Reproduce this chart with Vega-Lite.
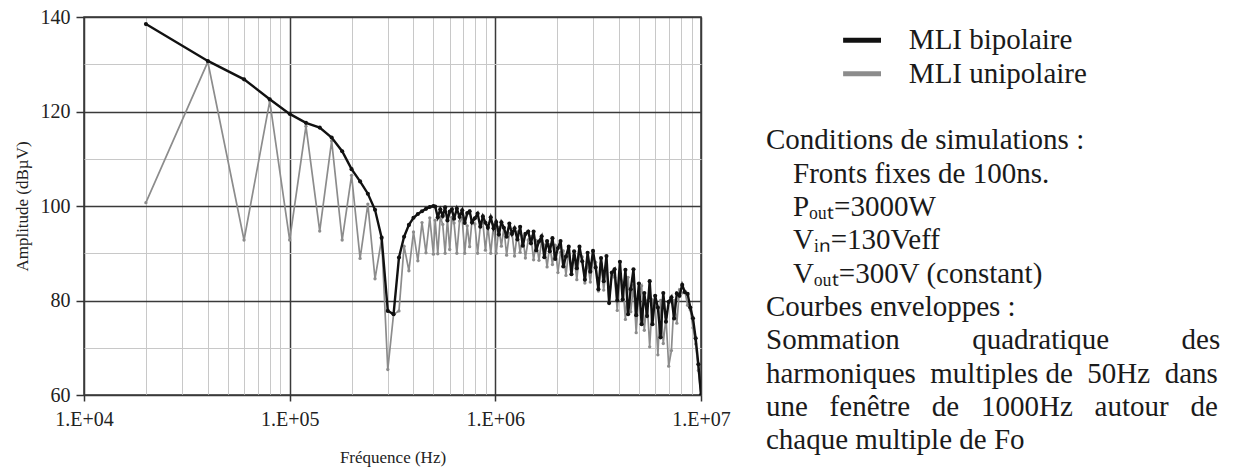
{
  "$schema": "https://vega.github.io/schema/vega-lite/v6.json",
  "background": "white",
  "padding": {"left": 12, "top": 6, "right": 5, "bottom": 5},
  "config": {"view": {"stroke": null}, "font": "Liberation Serif"},
  "spacing": 35,
  "datasets": {
    "spectre": [
      {"f": 20000, "b": 138.5, "u": 100.7},
      {"f": 40000, "b": 130.7, "u": 130.5},
      {"f": 60000, "b": 126.8, "u": 92.8},
      {"f": 80000, "b": 122.6, "u": 122.2},
      {"f": 100000, "b": 119.5, "u": 92.8},
      {"f": 120000, "b": 117.6, "u": 116.9},
      {"f": 140000, "b": 116.6, "u": 94.7},
      {"f": 160000, "b": 114.5, "u": 113.8},
      {"f": 180000, "b": 111.6, "u": 92.8},
      {"f": 200000, "b": 107.8, "u": 106.5},
      {"f": 220000, "b": 105.2, "u": 88.9},
      {"f": 240000, "b": 102.6, "u": 100.4},
      {"f": 260000, "b": 99.2, "u": 84.6},
      {"f": 280000, "b": 93.3, "u": 93.0},
      {"f": 300000, "b": 77.8, "u": 65.4},
      {"f": 320000, "b": 77.1, "u": 77.1},
      {"f": 340000, "b": 89.1, "u": 77.8},
      {"f": 360000, "b": 93.5, "u": 91.5},
      {"f": 380000, "b": 96.0, "u": 86.3},
      {"f": 400000, "b": 97.5, "u": 94.5},
      {"f": 420000, "b": 98.3, "u": 88.4},
      {"f": 440000, "b": 98.9, "u": 96.5},
      {"f": 460000, "b": 99.4, "u": 90.1},
      {"f": 480000, "b": 99.8, "u": 97.5},
      {"f": 500000, "b": 100.0, "u": 89.8},
      {"f": 510000, "b": 99.9, "u": 97.0},
      {"f": 525000, "b": 97.6, "u": 89.9},
      {"f": 540000, "b": 99.3, "u": 97.7},
      {"f": 555000, "b": 97.9, "u": 96.1},
      {"f": 570000, "b": 99.7, "u": 90.0},
      {"f": 585000, "b": 96.95, "u": 97.2},
      {"f": 600000, "b": 98.8, "u": 90.8},
      {"f": 615000, "b": 99.3, "u": 97.6},
      {"f": 630000, "b": 97.3, "u": 96.4},
      {"f": 650000, "b": 99.45, "u": 90.0},
      {"f": 670000, "b": 97.7, "u": 96.8},
      {"f": 690000, "b": 99.1, "u": 97.4},
      {"f": 710000, "b": 96.4, "u": 90.0},
      {"f": 730000, "b": 98.5, "u": 95.8},
      {"f": 750000, "b": 98.9, "u": 91.4},
      {"f": 770000, "b": 96.5, "u": 97.0},
      {"f": 795000, "b": 97.4, "u": 96.2},
      {"f": 820000, "b": 98.4, "u": 90.0},
      {"f": 845000, "b": 95.6, "u": 95.7},
      {"f": 870000, "b": 97.8, "u": 96.55},
      {"f": 895000, "b": 96.45, "u": 90.65},
      {"f": 920000, "b": 95.4, "u": 95.7},
      {"f": 950000, "b": 97.6, "u": 90.0},
      {"f": 980000, "b": 95.3, "u": 96.1},
      {"f": 1010000, "b": 96.6, "u": 90.0},
      {"f": 1040000, "b": 93.95, "u": 95.46},
      {"f": 1070000, "b": 96.56, "u": 91.5},
      {"f": 1100000, "b": 95.4, "u": 95.4},
      {"f": 1135000, "b": 93.5, "u": 89.6},
      {"f": 1170000, "b": 96.3, "u": 94.2},
      {"f": 1205000, "b": 94.1, "u": 94.3},
      {"f": 1240000, "b": 95.3, "u": 89.4},
      {"f": 1280000, "b": 92.9, "u": 94.5},
      {"f": 1320000, "b": 95.6, "u": 90.2},
      {"f": 1360000, "b": 91.6, "u": 93.6},
      {"f": 1400000, "b": 94.1, "u": 89.0},
      {"f": 1445000, "b": 94.6, "u": 92.8},
      {"f": 1490000, "b": 92.1, "u": 93.5},
      {"f": 1535000, "b": 94.6, "u": 88.6},
      {"f": 1580000, "b": 90.6, "u": 92.7},
      {"f": 1630000, "b": 92.5, "u": 88.5},
      {"f": 1680000, "b": 93.6, "u": 92.7},
      {"f": 1730000, "b": 89.15, "u": 91.7},
      {"f": 1785000, "b": 92.6, "u": 87.1},
      {"f": 1840000, "b": 90.4, "u": 91.8},
      {"f": 1895000, "b": 93.2, "u": 87.6},
      {"f": 1955000, "b": 88.8, "u": 91.7},
      {"f": 2015000, "b": 91.1, "u": 85.9},
      {"f": 2075000, "b": 92.6, "u": 90.2},
      {"f": 2140000, "b": 87.2, "u": 90.5},
      {"f": 2205000, "b": 89.3, "u": 85.3},
      {"f": 2275000, "b": 91.4, "u": 90.7},
      {"f": 2345000, "b": 85.55, "u": 86.5},
      {"f": 2415000, "b": 90.4, "u": 89.5},
      {"f": 2490000, "b": 86.8, "u": 84.4},
      {"f": 2565000, "b": 91.4, "u": 90.0},
      {"f": 2645000, "b": 88.3, "u": 89.2},
      {"f": 2725000, "b": 84.4, "u": 83.7},
      {"f": 2810000, "b": 90.1, "u": 88.2},
      {"f": 2895000, "b": 86.1, "u": 83.9},
      {"f": 2985000, "b": 90.5, "u": 89.0},
      {"f": 3075000, "b": 87.0, "u": 88.1},
      {"f": 3170000, "b": 82.4, "u": 82.0},
      {"f": 3265000, "b": 89.0, "u": 87.8},
      {"f": 3365000, "b": 84.1, "u": 82.2},
      {"f": 3470000, "b": 89.4, "u": 87.5},
      {"f": 3575000, "b": 79.45, "u": 79.7},
      {"f": 3685000, "b": 85.9, "u": 85.7},
      {"f": 3800000, "b": 86.6, "u": 84.9},
      {"f": 3915000, "b": 80.0, "u": 77.9},
      {"f": 4035000, "b": 88.2, "u": 85.5},
      {"f": 4160000, "b": 80.2, "u": 83.8},
      {"f": 4290000, "b": 86.5, "u": 76.0},
      {"f": 4420000, "b": 77.1, "u": 84.9},
      {"f": 4555000, "b": 82.4, "u": 77.6},
      {"f": 4695000, "b": 86.6, "u": 83.2},
      {"f": 4840000, "b": 76.9, "u": 73.2},
      {"f": 4990000, "b": 83.6, "u": 81.9},
      {"f": 5145000, "b": 75.0, "u": 83.1},
      {"f": 5300000, "b": 81.6, "u": 73.7},
      {"f": 5465000, "b": 76.7, "u": 79.9},
      {"f": 5630000, "b": 84.1, "u": 70.2},
      {"f": 5805000, "b": 75.0, "u": 80.1},
      {"f": 5985000, "b": 81.0, "u": 79.1},
      {"f": 6170000, "b": 78.5, "u": 68.5},
      {"f": 6360000, "b": 72.2, "u": 80.0},
      {"f": 6555000, "b": 81.6, "u": 70.9},
      {"f": 6755000, "b": 75.5, "u": 76.5},
      {"f": 6965000, "b": 79.7, "u": 66.1},
      {"f": 7180000, "b": 80.7, "u": 69.4},
      {"f": 7400000, "b": 76.2, "u": 80.0},
      {"f": 7630000, "b": 81.5, "u": 75.2},
      {"f": 7860000, "b": 81.0, "u": 82.3},
      {"f": 8100000, "b": 83.3, "u": 81.6},
      {"f": 8350000, "b": 81.75, "u": 82.0},
      {"f": 8610000, "b": 81.4, "u": 79.0},
      {"f": 8870000, "b": 78.5, "u": 78.0},
      {"f": 9140000, "b": 76.25, "u": 74.25},
      {"f": 9420000, "b": 72.0, "u": 70.8},
      {"f": 9710000, "b": 66.5, "u": 65.2},
      {"f": 10000000, "b": 60.0, "u": 60.0}
    ],
    "legende": [
      {"line": 0, "series": "MLI bipolaire"},
      {"line": 1, "series": "MLI unipolaire"}
    ],
    "notes": [
      {"line": 3, "indent": 0, "text": "Conditions de simulations :"},
      {"line": 4, "indent": 1, "text": "Fronts fixes de 100ns."},
      {"line": 5, "indent": 1, "text": "Pₒᵤₜ=3000W"},
      {"line": 6, "indent": 1, "text": "Vᵢₙ=130Veff"},
      {"line": 7, "indent": 1, "text": "Vₒᵤₜ=300V (constant)"},
      {"line": 8, "indent": 0, "text": "Courbes enveloppes :"},
      {"line": 9, "indent": 0, "text": "Sommation\u00a0\u00a0\u00a0\u00a0\u00a0\u00a0\u00a0\u00a0\u00a0\u00a0quadratique\u00a0\u00a0\u00a0\u00a0\u00a0\u00a0\u00a0\u00a0\u00a0\u00a0des"},
      {"line": 10, "indent": 0, "text": "harmoniques\u00a0\u00a0multiples\u00a0de\u00a0\u00a050Hz\u00a0\u00a0dans"},
      {"line": 11, "indent": 0, "text": "une\u00a0\u00a0\u00a0fenêtre\u00a0\u00a0\u00a0de\u00a0\u00a0\u00a01000Hz\u00a0\u00a0\u00a0autour\u00a0\u00a0\u00a0de"},
      {"line": 12, "indent": 0, "text": "chaque multiple de Fo"}
    ]
  },
  "hconcat": [
    {
      "width": 617,
      "height": 378,
      "view": {"stroke": "#333333", "strokeWidth": 1.5},
      "data": {"name": "spectre"},
      "transform": [{"fold": ["u", "b"], "as": ["s", "a"]}],
      "encoding": {
        "x": {
          "field": "f",
          "type": "quantitative",
          "scale": {"type": "log", "domain": [10000, 10000000], "nice": false},
          "axis": {
            "title": "Fréquence (Hz)",
            "values": [10000, 20000, 30000, 40000, 50000, 60000, 70000, 80000, 90000, 100000, 200000, 300000, 400000, 500000, 600000, 700000, 800000, 900000, 1000000, 2000000, 3000000, 4000000, 5000000, 6000000, 7000000, 8000000, 9000000, 10000000],
            "labelExpr": "abs(log(datum.value)/LN10 - round(log(datum.value)/LN10)) < 0.001 ? '1.E+0' + round(log(datum.value)/LN10) : ''",
            "labelFlush": false,
            "labelOverlap": false,
            "labelFont": "Liberation Serif",
            "labelFontSize": 20,
            "labelColor": "#222222",
            "labelPadding": 8,
            "tickSize": 6,
            "tickWidth": 1.5,
            "tickColor": {"condition": {"test": "abs(log(datum.value)/LN10 - round(log(datum.value)/LN10)) < 0.001", "value": "#333333"}, "value": "rgba(0,0,0,0)"},
            "gridColor": {"condition": {"test": "abs(log(datum.value)/LN10 - round(log(datum.value)/LN10)) < 0.001", "value": "#3a3a3a"}, "value": "#c8c8c8"},
            "gridWidth": {"condition": {"test": "abs(log(datum.value)/LN10 - round(log(datum.value)/LN10)) < 0.001", "value": 1.5}, "value": 1},
            "domain": false,
            "titleFont": "Liberation Serif",
            "titleFontSize": 17,
            "titleFontWeight": "normal",
            "titleColor": "#222222",
            "titlePadding": 20
          }
        },
        "y": {
          "field": "a",
          "type": "quantitative",
          "scale": {"domain": [60, 140], "nice": false, "zero": false},
          "axis": {
            "title": "Amplitude (dBµV)",
            "values": [60, 70, 80, 90, 100, 110, 120, 130, 140],
            "labelExpr": "datum.value % 20 == 0 ? datum.label : ''",
            "labelFont": "Liberation Serif",
            "labelFontSize": 20,
            "labelColor": "#222222",
            "labelPadding": 6,
            "tickSize": 8,
            "tickWidth": 1.5,
            "tickColor": {"condition": {"test": "datum.value % 20 == 0", "value": "#333333"}, "value": "rgba(0,0,0,0)"},
            "gridColor": {"condition": {"test": "datum.value % 20 == 0", "value": "#3a3a3a"}, "value": "#c8c8c8"},
            "gridWidth": {"condition": {"test": "datum.value % 20 == 0", "value": 1.5}, "value": 1},
            "domain": false,
            "titleFont": "Liberation Serif",
            "titleFontSize": 17,
            "titleFontWeight": "normal",
            "titleColor": "#222222",
            "titlePadding": 9
          }
        }
      },
      "layer": [
        {
          "transform": [{"filter": "datum.s == 'u'"}],
          "mark": {"type": "line", "color": "#8c8c8c", "strokeWidth": 1.7, "clip": true, "point": {"filled": true, "size": 11, "color": "#8c8c8c"}}
        },
        {
          "transform": [{"filter": "datum.s == 'b'"}],
          "mark": {"type": "line", "color": "#111111", "strokeWidth": 2.4, "clip": true, "point": {"filled": true, "size": 17, "color": "#111111"}}
        }
      ]
    },
    {
      "width": 460,
      "height": 440,
      "layer": [
        {
          "data": {"name": "legende"},
          "mark": {"type": "rule", "strokeWidth": 5},
          "encoding": {
            "x": {"datum": 2.85, "type": "quantitative", "scale": {"domain": [0, 17], "nice": false, "zero": false}, "axis": null},
            "x2": {"datum": 4.25},
            "y": {"field": "line", "type": "quantitative", "scale": {"domain": [-0.7, 12.5], "nice": false, "zero": false, "reverse": true}, "axis": null},
            "color": {"field": "series", "type": "nominal", "scale": {"domain": ["MLI bipolaire", "MLI unipolaire"], "range": ["#111111", "#8c8c8c"]}, "legend": null}
          }
        },
        {
          "data": {"name": "legende"},
          "mark": {"type": "text", "align": "left", "baseline": "middle", "font": "Liberation Serif", "fontSize": 29, "color": "#1a1a1a"},
          "encoding": {
            "x": {"datum": 5.28, "type": "quantitative"},
            "y": {"field": "line", "type": "quantitative"},
            "text": {"field": "series"}
          }
        },
        {
          "data": {"name": "notes"},
          "mark": {"type": "text", "align": "left", "baseline": "middle", "font": "Liberation Serif", "fontSize": 29, "color": "#1a1a1a"},
          "encoding": {
            "x": {"field": "indent", "type": "quantitative"},
            "y": {"field": "line", "type": "quantitative"},
            "text": {"field": "text"}
          }
        }
      ]
    }
  ]
}
